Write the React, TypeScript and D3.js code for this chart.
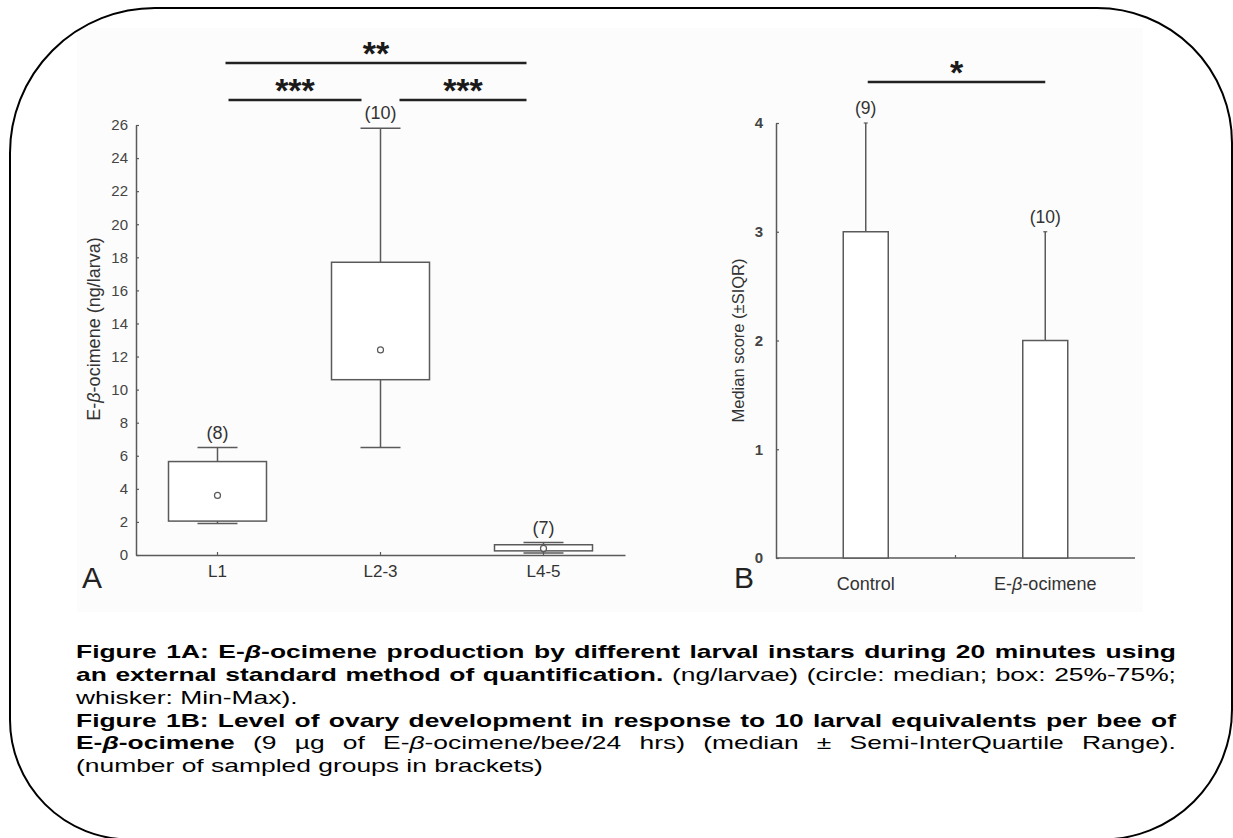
import { useEffect, useRef } from 'react'
import * as d3 from 'd3'

// Panel A: E-β-ocimene per larva, box plot
const instars = ['L1', 'L2-3', 'L4-5']
const instarMin = [1.9, 6.5, 0.12]
const instarQ1 = [2.05, 10.6, 0.25]
const instarMedian = [3.6, 12.4, 0.4]
const instarQ3 = [5.65, 17.7, 0.62]
const instarMax = [6.5, 25.8, 0.75]
const instarN = [8, 10, 7]
const aTicks = d3.range(0, 27, 2)

// Panel B: median ovary score
const groups = ['Control', 'E-β-ocimene']
const groupMedian = [3, 2]
const groupUpper = [4, 3]
const groupN = [9, 10]
const bTicks = [0, 1, 2, 3, 4]

type Seg = { t: string; b?: boolean; i?: boolean }
const captionLines: { segs: Seg[]; justify: boolean }[] = [
  {
    segs: [
      { t: 'Figure 1A: E-', b: true },
      { t: 'β', b: true, i: true },
      { t: '-ocimene production by different larval instars during 20 minutes using', b: true },
    ],
    justify: true,
  },
  {
    segs: [
      { t: 'an external standard method of quantification.', b: true },
      { t: ' (ng/larvae) (circle: median; box: 25%-75%;' },
    ],
    justify: true,
  },
  { segs: [{ t: 'whisker: Min-Max).' }], justify: false },
  {
    segs: [{ t: 'Figure 1B: Level of ovary development in response to 10 larval equivalents per bee of', b: true }],
    justify: true,
  },
  {
    segs: [
      { t: 'E-', b: true },
      { t: 'β', b: true, i: true },
      { t: '-ocimene', b: true },
      { t: ' (9 µg of E-' },
      { t: 'β', i: true },
      { t: '-ocimene/bee/24 hrs) (median ± Semi-InterQuartile Range).' },
    ],
    justify: true,
  },
  { segs: [{ t: '(number of sampled groups in brackets)' }], justify: false },
]

const FONT = "Arial, 'Liberation Sans', sans-serif"

function tokenize(segs: Seg[]) {
  const words: Seg[][] = []
  let cur: Seg[] = []
  segs.forEach(s => {
    s.t.split(' ').forEach((p, i) => {
      if (i > 0) {
        if (cur.length) words.push(cur)
        cur = []
      }
      if (p) cur.push({ ...s, t: p })
    })
  })
  if (cur.length) words.push(cur)
  return words
}

export default function App() {
  const svgRef = useRef<SVGSVGElement>(null)

  useEffect(() => {
    if (!svgRef.current) return
    const svg = d3.select(svgRef.current)
    svg.selectAll('*').remove()
    svg.style('font-family', FONT)

    const ink = '#5a5a5a'

    // frame
    svg.append('rect')
      .attr('x', 77).attr('y', 28).attr('width', 1066).attr('height', 584)
      .attr('fill', '#fcfcfc')

    const path = d3.path()
    path.moveTo(156, 8)
    path.lineTo(1097, 8)
    path.arcTo(1232, 8, 1232, 143, 135)
    path.lineTo(1232, 709.5)
    path.arcTo(1232, 839.5, 1102, 839.5, 130)
    path.lineTo(130, 839.5)
    path.arcTo(10, 839.5, 10, 719.5, 120)
    path.lineTo(10, 153)
    path.arcTo(10, 8, 155, 8, 145)
    path.closePath()
    svg.append('path').attr('d', path.toString())
      .attr('fill', 'none').attr('stroke', '#000').attr('stroke-width', 2)

    // ---------- Panel A ----------
    const aX = d3.scaleBand().domain(instars).range([136, 625]).padding(0)
    const aY = d3.scaleLinear().domain([0, 26]).range([555, 125])
    const boxW = 98
    const capW = 40

    const gA = svg.append('g')

    const yAxisA = gA.append('g')
      .attr('transform', 'translate(136,0)')
      .call(d3.axisLeft(aY).tickValues(aTicks).tickSizeInner(-3).tickSizeOuter(0).tickPadding(8))
    yAxisA.select('.domain').attr('stroke', ink).attr('stroke-width', 1.5)
    yAxisA.selectAll('.tick line').attr('stroke', ink).attr('stroke-width', 1.2)
    yAxisA.selectAll('.tick text').attr('fill', '#444').style('font-size', '15px').style('font-family', FONT)

    const xAxisA = gA.append('g')
      .attr('transform', 'translate(0,555)')
      .call(d3.axisBottom(aX).tickSizeInner(-3).tickSizeOuter(0).tickPadding(10))
    xAxisA.select('.domain').attr('stroke', ink).attr('stroke-width', 1.5)
    xAxisA.selectAll('.tick line').attr('stroke', ink).attr('stroke-width', 1.2)
    xAxisA.selectAll('.tick text').attr('fill', '#333').style('font-size', '17px').style('font-family', FONT)

    gA.append('text')
      .attr('transform', `translate(100,${aY(13) - 11}) rotate(-90)`)
      .attr('text-anchor', 'middle')
      .attr('fill', '#333')
      .style('font-size', '18px')
      .call(t => {
        t.append('tspan').text('E-')
        t.append('tspan').attr('font-style', 'italic').text('β')
        t.append('tspan').text('-ocimene (ng/larva)')
      })

    instars.forEach((k, i) => {
      const cx = (aX(k) || 0) + aX.bandwidth() / 2
      const g = gA.append('g').attr('stroke', ink).attr('stroke-width', 1.5).attr('fill', 'none')
      g.append('line').attr('x1', cx).attr('x2', cx).attr('y1', aY(instarMax[i])).attr('y2', aY(instarQ3[i]))
      g.append('line').attr('x1', cx).attr('x2', cx).attr('y1', aY(instarQ1[i])).attr('y2', aY(instarMin[i]))
      g.append('line').attr('x1', cx - capW / 2).attr('x2', cx + capW / 2)
        .attr('y1', aY(instarMax[i])).attr('y2', aY(instarMax[i]))
      g.append('line').attr('x1', cx - capW / 2).attr('x2', cx + capW / 2)
        .attr('y1', aY(instarMin[i])).attr('y2', aY(instarMin[i]))
      g.append('rect')
        .attr('x', cx - boxW / 2).attr('width', boxW)
        .attr('y', aY(instarQ3[i])).attr('height', aY(instarQ1[i]) - aY(instarQ3[i]))
        .attr('fill', '#fff')
      g.append('circle').attr('cx', cx).attr('cy', aY(instarMedian[i])).attr('r', 3)
        .attr('fill', '#fff').attr('stroke-width', 1.2)
      gA.append('text')
        .attr('x', cx).attr('y', aY(instarMax[i]) - 9)
        .attr('text-anchor', 'middle').attr('fill', '#333')
        .style('font-size', '18px')
        .text(`(${instarN[i]})`)
    })

    gA.append('text').attr('x', 92).attr('y', 588).attr('text-anchor', 'middle')
      .attr('fill', '#222').style('font-size', '30px').text('A')

    // significance brackets, A
    const cA = (k: string) => (aX(k) || 0) + aX.bandwidth() / 2
    const sigA = [
      { x1: cA('L1') + 8, x2: cA('L4-5') - 17, y: 63, label: '**' },
      { x1: cA('L1') + 11, x2: cA('L2-3') - 19, y: 100, label: '***' },
      { x1: cA('L2-3') + 19, x2: cA('L4-5') - 17, y: 100, label: '***' },
    ]
    const starSize = 34
    const drawSig = (s: { x1: number; x2: number; y: number; label: string }) => {
      svg.append('line').attr('x1', s.x1).attr('x2', s.x2).attr('y1', s.y).attr('y2', s.y)
        .attr('stroke', '#222').attr('stroke-width', 2.5)
      svg.append('text').attr('x', (s.x1 + s.x2) / 2).attr('y', s.y - 17 + starSize * 0.57)
        .attr('text-anchor', 'middle').attr('fill', '#1a1a1a').attr('font-weight', 'bold')
        .style('font-size', `${starSize}px`).text(s.label)
    }
    sigA.forEach(drawSig)

    // ---------- Panel B ----------
    const bX = d3.scaleBand().domain(groups).range([776, 1135]).padding(0)
    const bY = d3.scaleLinear().domain([0, 4]).range([558, 123])
    const barW = 45

    const gB = svg.append('g')
    const yAxisB = gB.append('g')
      .attr('transform', 'translate(776,0)')
      .call(d3.axisLeft(bY).tickValues(bTicks).tickFormat(d3.format('d')).tickSizeInner(-3).tickSizeOuter(0).tickPadding(13))
    yAxisB.select('.domain').attr('stroke', ink).attr('stroke-width', 1.5)
    yAxisB.selectAll('.tick line').attr('stroke', ink).attr('stroke-width', 1.2)
    yAxisB.selectAll('.tick text').attr('fill', '#444').style('font-size', '15px')
      .style('font-weight', 'bold').style('font-family', FONT)

    gB.append('line').attr('x1', 776).attr('x2', 1135).attr('y1', 558).attr('y2', 558)
      .attr('stroke', ink).attr('stroke-width', 1.5)
    groups.slice(1).forEach(k => {
      const x = bX(k) || 0
      gB.append('line').attr('x1', x).attr('x2', x).attr('y1', 558).attr('y2', 555)
        .attr('stroke', ink).attr('stroke-width', 1.2)
    })

    gB.append('text')
      .attr('transform', `translate(744,${bY(2)}) rotate(-90)`)
      .attr('text-anchor', 'middle').attr('fill', '#333')
      .style('font-size', '16.5px')
      .text('Median score (±SIQR)')

    groups.forEach((k, i) => {
      const cx = (bX(k) || 0) + bX.bandwidth() / 2
      gB.append('line').attr('x1', cx).attr('x2', cx)
        .attr('y1', bY(groupUpper[i])).attr('y2', bY(groupMedian[i]))
        .attr('stroke', ink).attr('stroke-width', 1.5)
      gB.append('line').attr('x1', cx - 2).attr('x2', cx + 2)
        .attr('y1', bY(groupUpper[i])).attr('y2', bY(groupUpper[i]))
        .attr('stroke', ink).attr('stroke-width', 1.2)
      gB.append('rect')
        .attr('x', cx - barW / 2).attr('width', barW)
        .attr('y', bY(groupMedian[i])).attr('height', bY(0) - bY(groupMedian[i]))
        .attr('fill', '#fff').attr('stroke', ink).attr('stroke-width', 1.5)
      gB.append('text').attr('x', cx).attr('y', bY(groupUpper[i]) - 9)
        .attr('text-anchor', 'middle').attr('fill', '#333').style('font-size', '17.5px')
        .text(`(${groupN[i]})`)
      const lab = gB.append('text').attr('x', cx).attr('y', 590)
        .attr('text-anchor', 'middle').attr('fill', '#333').style('font-size', '18px')
      if (k.includes('β')) {
        const [a, b] = k.split('β')
        lab.append('tspan').text(a)
        lab.append('tspan').attr('font-style', 'italic').text('β')
        lab.append('tspan').text(b)
      } else lab.text(k)
    })

    gB.append('text').attr('x', 744).attr('y', 588).attr('text-anchor', 'middle')
      .attr('fill', '#222').style('font-size', '30px').text('B')

    const cB = (k: string) => (bX(k) || 0) + bX.bandwidth() / 2
    drawSig({ x1: cB('Control') + 2, x2: cB('E-β-ocimene'), y: 82, label: '*' })

    // ---------- Caption ----------
    // the page text is wide: scaled horizontally
    const left = 76
    const right = 1176
    const baselines = [658, 681, 703.5, 726.5, 749, 772]
    const capSize = 19
    const sx = 1.39
    captionLines.forEach((line, li) => {
      const words = tokenize(line.segs)
      const nodes = words.map(w => {
        const t = svg.append('text').attr('x', 0).attr('y', 0).attr('fill', '#000')
          .style('font-size', `${capSize}px`)
        w.forEach(p => {
          t.append('tspan')
            .attr('font-weight', p.b ? 'bold' : 'normal')
            .attr('font-style', p.i ? 'italic' : 'normal')
            .text(p.t)
        })
        return t
      })
      const widths = nodes.map(n => (n.node() as SVGTextElement).getComputedTextLength() * sx)
      const total = d3.sum(widths)
      const gap = line.justify && words.length > 1
        ? (right - left - total) / (words.length - 1)
        : capSize * 0.278 * sx
      let x = left
      nodes.forEach((n, i) => {
        n.attr('transform', `translate(${x},${baselines[li]}) scale(${sx},1)`)
        x += widths[i] + gap
      })
    })
  }, [])

  return (
    <svg
      ref={svgRef}
      width={1233}
      height={838}
      style={{ position: 'absolute', left: 0, top: 0, background: '#fff' }}
    />
  )
}
